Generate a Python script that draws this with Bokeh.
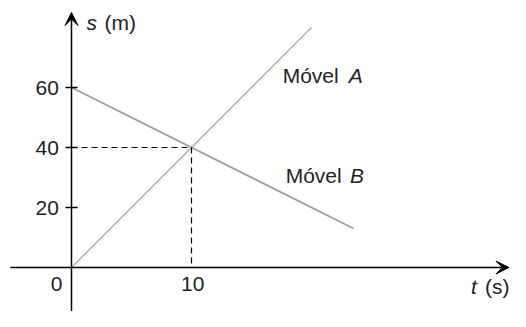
from bokeh.plotting import figure
from bokeh.models import Arrow, VeeHead, Range1d
from bokeh.core.properties import value
from bokeh.embed import file_html
from bokeh.resources import INLINE

# data
t_A = [0, 20]
s_A = [0, 80]
t_B = [0, 23.5]
s_B = [60, 13]
meet_t = 10
meet_s = 40
y_ticks = [20, 40, 60]
y_tick_labels = ["20", "40", "60"]
x_ticks = [0, 10]
x_tick_labels = ["0", "10"]

FONT = value("Liberation Sans")
FS = "21px"
TC = "#222222"

p = figure(width=510, height=311, output_backend="svg", toolbar_location=None,
           x_range=Range1d(-71 / 12, -71 / 12 + 510 / 12),
           y_range=Range1d(89 - 311 / 3, 89),
           min_border=0)
p.axis.visible = False
p.grid.visible = False
p.outline_line_color = None
p.background_fill_color = "white"

# data lines
p.line(t_A, s_A, line_color="#b8b8b8", line_width=1.7)
p.line(t_B, s_B, line_color="#9c9c9c", line_width=1.7)

# dashed guide lines
p.line([0, meet_t], [meet_s, meet_s], line_color="black", line_width=1.2, line_dash="6 4")
p.line([meet_t, meet_t], [meet_s, 0], line_color="black", line_width=1.2, line_dash="6 4")

# axes with arrows
p.add_layout(Arrow(end=VeeHead(size=13, fill_color="black", line_color="black"),
                   x_start=-5.1, y_start=0, x_end=36.45, y_end=0,
                   line_color="black", line_width=1.5))
p.add_layout(Arrow(end=VeeHead(size=13, fill_color="black", line_color="black"),
                   x_start=0, y_start=-15, x_end=0, y_end=85,
                   line_color="black", line_width=1.5))

# y tick marks
p.segment(x0=[-0.5] * len(y_ticks), y0=y_ticks, x1=[0.5] * len(y_ticks), y1=y_ticks,
          line_color="black", line_width=1.5)

# tick labels
p.text(x=[-1.05] * len(y_ticks), y=y_ticks, text=y_tick_labels, text_align="right",
       text_baseline="middle", text_font=FONT, text_font_size=FS, text_color=TC)
p.text(x=[-1.25, 10.1], y=[-5.4, -5.4], text=x_tick_labels, text_align="center",
       text_baseline="middle", text_font=FONT, text_font_size=FS, text_color=TC)

# axis titles
p.text(x=[1.25], y=[81.7], text=["s"], text_baseline="middle", text_font=FONT,
       text_font_style="italic", text_font_size=FS, text_color=TC)
p.text(x=[2.75], y=[81.7], text=["(m)"], text_baseline="middle", text_font=FONT,
       text_font_size=FS, text_color=TC)
p.text(x=[33.3], y=[-6.3], text=["t"], text_baseline="middle", text_font=FONT,
       text_font_style="italic", text_font_size=FS, text_color=TC)
p.text(x=[34.45], y=[-6.3], text=["(s)"], text_baseline="middle", text_font=FONT,
       text_font_size=FS, text_color=TC)

# series labels
p.text(x=[17.6, 17.85], y=[64, 30.7], text=["Móvel", "Móvel"], text_baseline="middle",
       text_font=FONT, text_font_size=FS, text_color=TC)
p.text(x=[23.1, 23.2], y=[64, 30.7], text=["A", "B"], text_baseline="middle",
       text_font=FONT, text_font_style="italic", text_font_size=FS, text_color=TC)

open("out.html", "w").write(file_html(p, INLINE))
